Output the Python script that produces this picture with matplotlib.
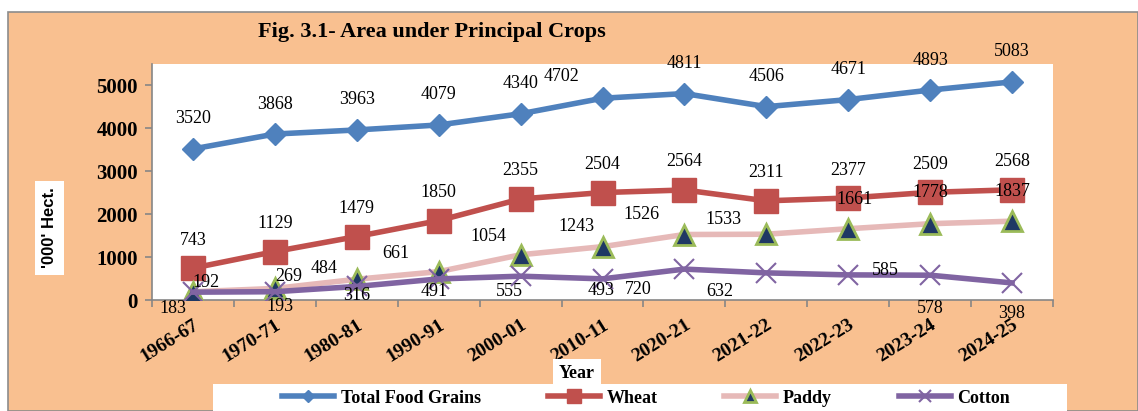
import matplotlib.pyplot as plt
import matplotlib.patches as patches
import numpy as np

# data
years = ['1966-67', '1970-71', '1980-81', '1990-91', '2000-01', '2010-11',
         '2020-21', '2021-22', '2022-23', '2023-24', '2024-25']
food_grains = [3520, 3868, 3963, 4079, 4340, 4702, 4811, 4506, 4671, 4893, 5083]
wheat = [743, 1129, 1479, 1850, 2355, 2504, 2564, 2311, 2377, 2509, 2568]
paddy = [192, 269, 484, 661, 1054, 1243, 1526, 1533, 1661, 1778, 1837]
cotton = [183, 193, 316, 491, 555, 493, 720, 632, 585, 578, 398]

# label offsets (pixels) per series
fg_off = [(0, 30)] * 11
fg_off[5] = (-41, 22)
wh_off = [(0, 28)] * 11
pa_off = [(13, 9), (14, 12), (-33, 11), (-43, 18), (-32, 18), (-26, 20),
          (-43, 20), (-43, 15), (6, 29), (0, 31), (0, 30)]
co_off = [(-20, -16), (5, -15), (0, -9), (-4, -13), (-11, -15), (-1, -12),
          (-46, -20), (-47, -19), (37, 4), (0, -33), (0, -31)]

W, H = 1138, 411
fig = plt.figure(figsize=(W / 100, H / 100), dpi=100)
fig.patch.set_facecolor('white')

# orange chart area
fig.patches.append(patches.Rectangle((8 / W, 0), 1 - 8 / W, (H - 12) / H,
                                     transform=fig.transFigure, facecolor='#F9C090',
                                     edgecolor='#8C8C8C', linewidth=1.2, zorder=-2))

ax = fig.add_axes([152 / W, 111 / H, 901 / W, 236 / H])
ax.set_zorder(2)
ax.set_facecolor('white')
x = np.arange(len(years))

ax.plot(x, food_grains, color='#4F81BD', lw=4, marker='D', ms=11,
        label='Total Food Grains', zorder=3)
ax.plot(x, wheat, color='#C0504D', lw=4, marker='s', ms=17,
        label='Wheat', zorder=3)
ax.plot(x, paddy, color='#E6B9B8', lw=4, marker='^', ms=14,
        markerfacecolor='#1F3864', markeredgecolor='#9BBB59', markeredgewidth=2,
        label='Paddy', zorder=3)
ax.plot(x, cotton, color='#8064A2', lw=4, marker='x', ms=14, mew=1.5,
        label='Cotton', zorder=4)

tf = dict(family='Liberation Serif', fontsize=13, color='black')
for vals, offs in [(food_grains, fg_off), (wheat, wh_off), (paddy, pa_off), (cotton, co_off)]:
    for i, v in enumerate(vals):
        ax.annotate(str(v), (x[i], v), xytext=offs[i], textcoords='offset pixels',
                    ha='center', va='center', annotation_clip=False, zorder=6, **tf)

ax.set_xlim(-0.5, len(years) - 0.5)
ax.set_ylim(0, 5500)
ax.set_yticks(range(0, 5001, 1000))
ax.set_yticklabels([str(v) for v in range(0, 5001, 1000)],
                   fontdict=dict(family='Liberation Serif', fontsize=15, weight='bold'))
ax.set_xticks(x)
ax.set_xticklabels(years, rotation=32, ha='right', rotation_mode='anchor',
                   fontdict=dict(family='Liberation Serif', fontsize=14, weight='bold'))
ax.tick_params(axis='x', length=0, pad=12)
ax.set_xticks(np.arange(-0.5, len(years), 1), minor=True)
ax.tick_params(axis='x', which='minor', length=5, color='#868686', width=1.2)
ax.tick_params(axis='y', length=5, color='#868686', width=1.2, pad=5)
for s in ['top', 'right']:
    ax.spines[s].set_visible(False)
for s in ['left', 'bottom']:
    ax.spines[s].set_color('#868686')
    ax.spines[s].set_linewidth(1.2)

fig.text(432 / W, 1 - 32 / H, 'Fig. 3.1- Area under Principal Crops', ha='center', va='center',
         family='Liberation Serif', fontsize=16, weight='bold')

fig.text(49 / W, 1 - 228 / H, "'000' Hect.", rotation=90, ha='center', va='center',
         family='Liberation Sans', fontsize=12, weight='bold',
         bbox=dict(facecolor='white', edgecolor='none', pad=5))

fig.text(577 / W, 1 - 373 / H, 'Year', ha='center', va='center',
         family='Liberation Serif', fontsize=13, weight='bold',
         bbox=dict(facecolor='white', edgecolor='none', pad=4))

# legend area
fig.patches.append(patches.Rectangle((213 / W, 0), (1067 - 213) / W, 27 / H,
                                     transform=fig.transFigure, facecolor='white',
                                     edgecolor='none', zorder=-1))
handles, labels = ax.get_legend_handles_labels()
leg_handles = []
for h in handles:
    lh = plt.Line2D([], [], color=h.get_color(), lw=4, marker=h.get_marker(),
                    ms=h.get_markersize() * 0.6, markerfacecolor=h.get_markerfacecolor(),
                    markeredgecolor=h.get_markeredgecolor(), mew=h.get_markeredgewidth())
    leg_handles.append(lh)
leg = fig.legend(leg_handles, labels, loc='center', bbox_to_anchor=(646 / W, 13 / H), ncol=4,
                 frameon=False, handlelength=2.9, columnspacing=3.7, handletextpad=0.35,
                 prop=dict(family='Liberation Serif', size=13, weight='bold'))
leg.set_zorder(5)

fig.savefig('out.png', dpi=100, facecolor=fig.get_facecolor())
